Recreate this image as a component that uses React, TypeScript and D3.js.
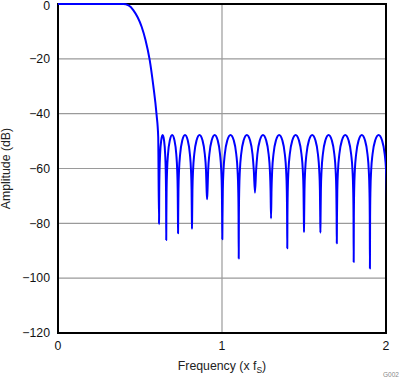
import React from "react";
import * as d3 from "d3";

// Passband / transition band
const rolloffFreq = [0, 0.398, 0.43, 0.459, 0.51, 0.5335, 0.5585, 0.5811, 0.6006, 0.611];
const rolloffDb = [0, 0, -0.5, -2.2, -8.3, -13.1, -20.2, -29.8, -40.1, -48.4];

// Stopband nulls (frequency in fs, depth in dB)
const nullFreq = [0.616, 0.66, 0.732, 0.817, 0.909, 1.002, 1.102, 1.201, 1.299, 1.398, 1.5, 1.6, 1.7, 1.803, 1.902];
const nullDb = [-80.3, -86.1, -83.6, -82, -71.2, -85.8, -92.8, -68.8, -78.2, -89.1, -83.2, -83.4, -87.3, -94.1, -96.5];
// Sidelobe peak level
const peakDb = -47.8;
// Next (off-chart) null beyond 2 fs
const lastNullFreq = 2.008;
const lastNullDb = -90;

const yTicks = [0, -20, -40, -60, -80, -100, -120];
const xTicks = [0, 1, 2];
const xGrid = [1];

// Shape of one sidelobe arch (fraction of lobe width, dB below peak)
const lobeProfile: [number, number][] = [
  [0.01, -30],
  [0.03, -20],
  [0.07, -13],
  [0.15, -7],
  [0.3, -2],
];

const W = 402;
const H = 377;
const left = 58;
const right = 386;
const top = 4;
const bottom = 333;
const FONT = "'Liberation Sans', Arial, Helvetica, sans-serif";

function fmt(v: number) {
  return v < 0 ? "\u2212" + Math.abs(v) : String(v);
}

export default function App() {
  const x = d3.scaleLinear().domain([0, 2]).range([left, right]);
  const y = d3.scaleLinear().domain([0, -120]).range([top, bottom]);

  const pts: [number, number][] = rolloffFreq.map((f, i) => [f, rolloffDb[i]]);
  const n = nullFreq.length;
  for (let i = 0; i < n; i++) {
    const a = nullFreq[i];
    const da = nullDb[i];
    const b = i + 1 < n ? nullFreq[i + 1] : lastNullFreq;
    const db = i + 1 < n ? nullDb[i + 1] : lastNullDb;
    const w = b - a;
    pts.push([a, da]);
    for (const [u, off] of lobeProfile) {
      const v = peakDb + off;
      if (v > da + 2) pts.push([a + u * w, v]);
    }
    pts.push([a + 0.5 * w, peakDb]);
    for (let k = lobeProfile.length - 1; k >= 0; k--) {
      const [u, off] = lobeProfile[k];
      const v = peakDb + off;
      if (v > db + 2) pts.push([b - u * w, v]);
    }
    if (i + 1 >= n) pts.push([b, db]);
  }

  const line = d3
    .line<[number, number]>()
    .x((d) => x(d[0]))
    .y((d) => y(d[1]))
    .curve(d3.curveMonotoneX);

  return (
    <svg
      width={W}
      height={H}
      style={{ position: "absolute", left: 0, top: 0, background: "#fff" }}
    >
      <defs>
        <clipPath id="plotClip">
          <rect x={left} y={top - 2} width={right - left} height={bottom - top + 2} />
        </clipPath>
      </defs>
      {yTicks.slice(1, -1).map((t) => (
        <line key={"gy" + t} x1={left} x2={right} y1={y(t)} y2={y(t)} stroke="#9a9a9a" strokeWidth={1.2} />
      ))}
      {xGrid.map((t) => (
        <line key={"gx" + t} x1={x(t)} x2={x(t)} y1={top} y2={bottom} stroke="#9a9a9a" strokeWidth={1.2} />
      ))}
      <rect x={left} y={top} width={right - left} height={bottom - top} fill="none" stroke="#000" strokeWidth={2} />
      <path
        d={line(pts) || ""}
        fill="none"
        stroke="#0000ff"
        strokeWidth={2}
        strokeLinejoin="round"
        clipPath="url(#plotClip)"
      />
      {yTicks.map((t) => (
        <text
          key={"ty" + t}
          x={50}
          y={Math.max(y(t), 5.6)}
          dy="0.35em"
          textAnchor="end"
          fontFamily={FONT}
          fontSize={12.3}
          fill="#111"
        >
          {fmt(t)}
        </text>
      ))}
      {xTicks.map((t) => (
        <text key={"tx" + t} x={x(t)} y={350} textAnchor="middle" fontFamily={FONT} fontSize={12.3} fill="#111">
          {fmt(t)}
        </text>
      ))}
      <text x={(left + right) / 2} y={370} textAnchor="middle" fontFamily={FONT} fontSize={12.3} fill="#222">
        Frequency (x f
        <tspan fontSize={8.5} dy={3}>S</tspan>
        <tspan dy={-3}>)</tspan>
      </text>
      <text
        transform={`translate(10, ${(top + bottom) / 2}) rotate(-90)`}
        textAnchor="middle"
        fontFamily={FONT}
        fontSize={12.3}
        fill="#222"
      >
        Amplitude (dB)
      </text>
      <text x={383} y={377} fontFamily={FONT} fontSize={6.5} fill="#888">
        G002
      </text>
    </svg>
  );
}
